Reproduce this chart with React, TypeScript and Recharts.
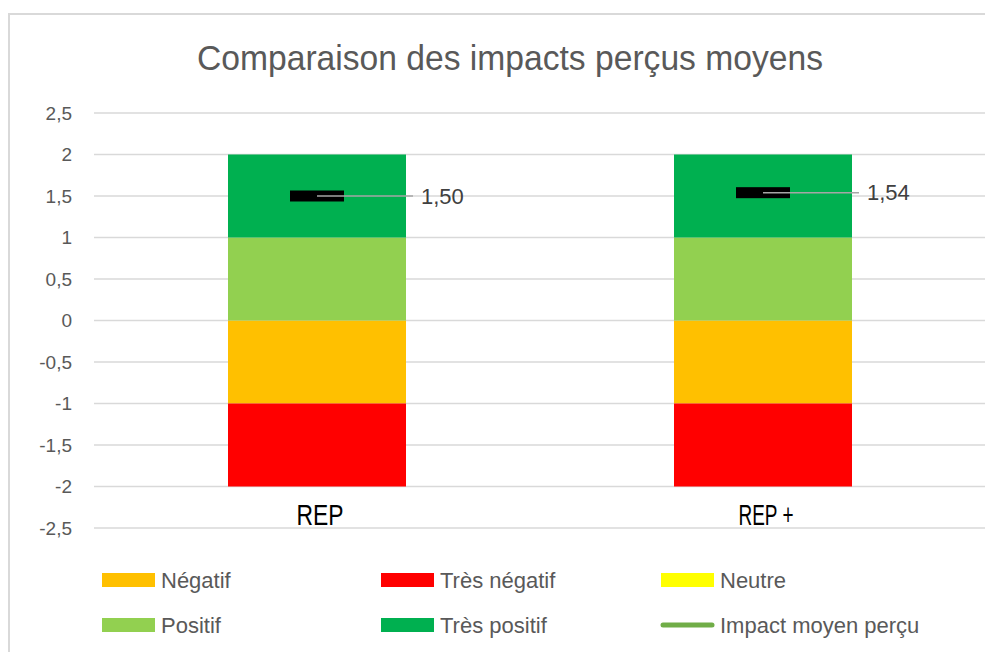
import React from 'react';
import { ComposedChart, Bar, Line, XAxis, YAxis, CartesianGrid, Legend } from 'recharts';

const categories = ['REP', 'REP +'];
const negatif = [-1, -1];
const tresNegatif = [-1, -1];
const neutre = [0, 0];
const positif = [1, 1];
const tresPositif = [1, 1];
const impactMoyen = [1.5, 1.54];
const yTicks = [-2.5, -2, -1.5, -1, -0.5, 0, 0.5, 1, 1.5, 2, 2.5];

const seriesInfo = [
    { key: 'negatif', name: 'Négatif', color: '#FFC000' },
    { key: 'tresNegatif', name: 'Très négatif', color: '#FF0000' },
    { key: 'neutre', name: 'Neutre', color: '#FFFF00' },
    { key: 'positif', name: 'Positif', color: '#92D050' },
    { key: 'tresPositif', name: 'Très positif', color: '#00B050' },
];
const impactInfo = { key: 'impact', name: 'Impact moyen perçu', color: '#70AD47' };

const data = categories.map((name, i) => ({
    name,
    negatif: negatif[i],
    tresNegatif: tresNegatif[i],
    neutre: neutre[i],
    positif: positif[i],
    tresPositif: tresPositif[i],
    impact: impactMoyen[i],
}));

const FONT = '"Liberation Sans", Arial, sans-serif';
const fmt = (v: number | string) => String(v).replace('.', ',');

const CategoryTick = ({ x, y, payload }: any) => (
    <text
        x={x + 3}
        y={y - 3}
        textAnchor="middle"
        fontFamily={FONT}
        fontSize={29}
        fill="#000000"
        textLength={payload.value === 'REP' ? 47 : 55}
        lengthAdjust="spacingAndGlyphs"
    >
        {payload.value}
    </text>
);

const ImpactMarker = ({ cx, cy, value }: any) => {
    if (cx == null || cy == null) return null;
    return (
        <g>
            <rect x={cx - 27} y={cy - 5.5} width={54} height={11} fill="#000000" />
            <line x1={cx} y1={cy} x2={cx + 96} y2={cy} stroke="#a6a6a6" strokeWidth={1.5} />
            <text x={cx + 104} y={cy + 7.5} fontFamily={FONT} fontSize={22} fill="#404040">
                {fmt(Number(value).toFixed(2))}
            </text>
        </g>
    );
};

const legendCols = [94, 373, 653];
const legendRows = [51, 96];

const CustomLegend = () => {
    const items = [...seriesInfo, impactInfo];
    return (
        <svg width={985} height={123} style={{ display: 'block' }}>
            {items.map((item, i) => {
                const x = legendCols[i % 3];
                const y = legendRows[Math.floor(i / 3)];
                return (
                    <g key={item.key}>
                        {item.key === 'impact' ? (
                            <line x1={x + 2} y1={y} x2={x + 51} y2={y} stroke={item.color} strokeWidth={5} strokeLinecap="round" />
                        ) : (
                            <rect x={x} y={y - 7} width={53} height={14} fill={item.color} />
                        )}
                        <text x={x + 59} y={y + 8} fontFamily={FONT} fontSize={22} fill="#595959">
                            {item.name}
                        </text>
                    </g>
                );
            })}
        </svg>
    );
};

export default function App() {
    return (
        <div
            style={{
                marginTop: 5,
                width: 985,
                height: 639,
                borderTop: '2px solid #d9d9d9',
                borderLeft: '2px solid #d9d9d9',
                boxSizing: 'border-box',
                position: 'relative',
                overflow: 'hidden',
                background: '#ffffff',
            }}
        >
            <div style={{ position: 'absolute', left: -2, top: -2 }}>
                <ComposedChart
                    width={985}
                    height={639}
                    data={data}
                    stackOffset="sign"
                    barCategoryGap={0}
                    margin={{ top: 100, right: 7, left: 0, bottom: 0 }}
                >
                    <text
                        x={502}
                        y={57}
                        textAnchor="middle"
                        fontFamily={FONT}
                        fontSize={35}
                        fill="#595959"
                        textLength={626}
                        lengthAdjust="spacingAndGlyphs"
                    >
                        Comparaison des impacts perçus moyens
                    </text>
                    <CartesianGrid vertical={false} stroke="#d9d9d9" strokeWidth={1.5} />
                    <XAxis
                        dataKey="name"
                        height={1}
                        axisLine={false}
                        tickLine={false}
                        tickSize={0}
                        tickMargin={0}
                        tick={<CategoryTick />}
                        interval={0}
                    />
                    <YAxis
                        width={86}
                        domain={[-2.5, 2.5]}
                        ticks={yTicks}
                        axisLine={false}
                        tickLine={false}
                        tickSize={0}
                        tickMargin={22}
                        tickFormatter={fmt}
                        tick={{ fill: '#595959', fontSize: 19, fontFamily: FONT }}
                        interval={0}
                    />
                    {seriesInfo.map((s) => (
                        <Bar
                            key={s.key}
                            dataKey={s.key}
                            name={s.name}
                            stackId="a"
                            fill={s.color}
                            barSize={178}
                            isAnimationActive={false}
                        />
                    ))}
                    <Line
                        dataKey="impact"
                        name={impactInfo.name}
                        stroke="none"
                        dot={<ImpactMarker />}
                        activeDot={false}
                        isAnimationActive={false}
                    />
                    <Legend verticalAlign="bottom" content={<CustomLegend />} wrapperStyle={{ left: 0, width: 985 }} />
                </ComposedChart>
            </div>
        </div>
    );
}
